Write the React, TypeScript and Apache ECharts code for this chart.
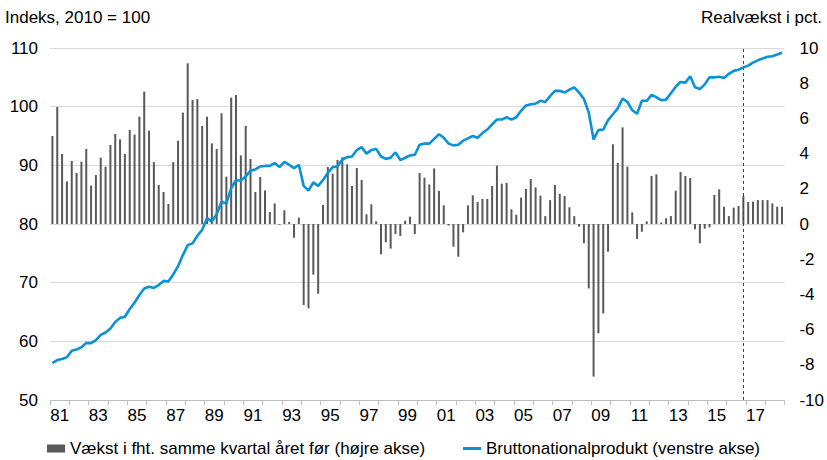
import React, { useEffect, useRef } from "react";
import * as echarts from "echarts";

const years = [
  "81", "82", "83", "84", "85", "86", "87", "88", "89", "90",
  "91", "92", "93", "94", "95", "96", "97", "98", "99", "00",
  "01", "02", "03", "04", "05", "06", "07", "08", "09", "10",
  "11", "12", "13", "14", "15", "16", "17", "18",
];
const quarterNames = ["K1", "K2", "K3", "K4"];
const quarters = years.flatMap((y) => quarterNames.map((q) => y + q));

// Bruttonationalprodukt, indeks 2010 = 100 (venstre akse)
const gdp = [
  56.3, 56.8, 57.0, 57.3, 58.4, 58.6, 59.0, 59.7, 59.7, 60.2,
  61.1, 61.5, 62.2, 63.3, 64.0, 64.2, 65.5, 66.6, 67.9, 69.0,
  69.3, 69.1, 69.6, 70.3, 70.2, 71.4, 72.8, 74.7, 76.4, 76.7,
  78.0,
  79.0, 81.0, 80.4, 81.7, 83.8, 83.5, 86.1, 87.5, 87.4, 88.1,
  89.1, 89.3, 89.8, 89.9, 89.9, 90.4, 89.7, 90.6, 90.1, 89.5,
  90.1, 86.5, 85.7, 87.1, 86.5, 87.5, 88.7, 89.7, 89.8, 91.0,
  91.4, 91.5, 92.6, 93.1, 92.0, 92.6, 92.8, 91.5, 91.1, 91.3,
  92.2, 90.9, 91.3, 91.7, 91.8, 93.5, 93.7, 93.7, 94.5, 95.3,
  94.7, 93.7, 93.4, 93.5, 94.2, 94.6, 95.0, 94.7, 95.5, 96.1,
  97.0,
  97.8, 97.8, 98.2, 97.8, 98.2, 99.3, 100.2, 100.4, 100.5, 101.0,
  100.8, 101.8, 102.7, 102.7, 102.4, 102.9, 103.3, 102.4, 101.3, 99.0,
  94.4, 96.0, 96.1, 97.7, 98.7, 99.7, 101.4, 100.8, 99.4, 98.8,
  101.0, 101.0, 102.0, 101.6, 101.1, 101.2, 102.3, 103.4, 104.2, 104.1,
  105.2, 103.3, 103.0, 103.8, 105.0, 105.0, 105.1, 104.9, 105.6, 106.1,
  106.3, 106.7, 107.0, 107.5, 107.9, 108.2, 108.5, 108.6, 108.9, 109.2,
];

// Vækst i fht. samme kvartal året før, pct. (højre akse)
const growth = [
  5.0, 6.65, 3.98, 2.42, 3.58, 2.9, 3.54, 4.26, 2.18, 2.78,
  3.77, 3.26, 4.49, 5.11, 4.81, 3.98, 5.34, 5.08, 6.1, 7.52,
  5.3, 3.52, 2.22, 1.82, 1.14, 3.52, 4.73, 6.33, 9.13, 7.05,
  7.1,
  5.57, 6.1, 4.58, 4.26, 6.29, 2.69, 7.18, 7.33, 3.9, 5.57,
  3.69, 1.82, 2.67, 1.91, 0.68, 1.17, -0.04, 0.78, 0.11, -0.78,
  0.36, -4.6, -4.79, -2.88, -3.96, 1.08, 3.24, 2.86, 3.64, 3.79,
  3.39, 2.16, 3.18, 2.5, 0.55, 1.12, 0.15, -1.72, -1.04, -1.4,
  -0.57, -0.68, 0.19, 0.42, -0.57, 2.9, 2.63, 2.25, 3.16, 1.88,
  1.06, -0.09, -1.29, -1.86, -0.47, 1.06, 1.63, 1.25, 1.42, 1.42,
  2.16,
  3.31, 2.29, 2.33, 0.83, 0.53, 1.5, 1.99, 2.56, 2.08, 1.61,
  0.45, 1.36, 2.22, 1.72, 1.59, 0.95, 0.45, -0.15, -1.1, -3.66,
  -8.67, -6.21, -5.08, -1.57, 4.53, 3.48, 5.49, 3.26, 0.66, -0.85,
  -0.44, 0.15, 2.73, 2.82, 0.09, 0.32, 0.45, 1.89, 2.95, 2.73,
  2.61, -0.3, -1.1, -0.27, -0.19, 1.65, 1.97, 0.98, 0.45, 0.93,
  1.02, 1.59, 1.25, 1.27, 1.36, 1.36, 1.36, 1.17, 0.98, 0.98,
];

const forecastStart = "16K4";
const barName = "Vækst i fht. samme kvartal året før (højre akse)";
const lineName = "Bruttonationalprodukt (venstre akse)";
const leftTitle = "Indeks, 2010 = 100";
const rightTitle = "Realvækst i pct.";

const FONT = "'Liberation Sans', Arial, sans-serif";
const BLUE = "#0a92d6";
const GREY = "#595959";

export default function App() {
  const ref = useRef<HTMLDivElement>(null);

  useEffect(() => {
    if (!ref.current) return;
    const chart = echarts.init(ref.current, undefined, { renderer: "svg" });
    chart.setOption({
      animation: false,
      textStyle: { fontFamily: FONT },
      grid: { left: 50, right: 40, top: 48, bottom: 60, containLabel: false },
      graphic: [
        {
          type: "text",
          left: 5,
          top: 9,
          style: { text: leftTitle, fontSize: 17, fontFamily: FONT, fill: "#000" },
        },
        {
          type: "text",
          right: 5,
          top: 9,
          style: { text: rightTitle, fontSize: 17, fontFamily: FONT, fill: "#000" },
        },
      ],
      legend: [
        {
          data: [{ name: barName, icon: "rect" }],
          left: 42,
          top: 435,
          itemWidth: 18,
          itemHeight: 8,
          textStyle: { fontSize: 17, color: "#000", fontFamily: FONT },
        },
        {
          data: [{ name: lineName, icon: "rect" }],
          left: 458,
          top: 435,
          itemWidth: 18,
          itemHeight: 3,
          textStyle: { fontSize: 17, color: "#000", fontFamily: FONT },
        },
      ],
      xAxis: [
        {
          type: "category",
          data: quarters,
          show: false,
          boundaryGap: true,
        },
        {
          type: "category",
          data: years,
          position: "bottom",
          boundaryGap: true,
          axisLine: { show: true, lineStyle: { color: "#bfbfbf", width: 1 } },
          axisTick: { show: true, interval: 0, length: 5, lineStyle: { color: "#bfbfbf" } },
          axisLabel: { interval: 1, fontSize: 17, color: "#000", fontFamily: FONT, margin: 7 },
          splitLine: { show: false },
        },
      ],
      yAxis: [
        {
          type: "value",
          min: 50,
          max: 110,
          interval: 10,
          position: "left",
          axisLine: { show: false },
          axisTick: { show: false },
          splitLine: { show: true, lineStyle: { color: "#d9d9d9", width: 1 } },
          axisLabel: { fontSize: 17, color: "#000", fontFamily: FONT, margin: 12 },
        },
        {
          type: "value",
          min: -10,
          max: 10,
          interval: 2,
          position: "right",
          axisLine: { show: false },
          axisTick: { show: false },
          splitLine: { show: false },
          axisLabel: { fontSize: 17, color: "#000", fontFamily: FONT, margin: 15, align: "left" },
        },
      ],
      series: [
        {
          name: barName,
          type: "bar",
          xAxisIndex: 0,
          yAxisIndex: 1,
          data: growth,
          barWidth: 2,
          itemStyle: { color: GREY },
          markLine: {
            silent: true,
            symbol: "none",
            label: { show: false },
            lineStyle: { color: "#404040", width: 1, type: [3, 3] },
            data: [{ xAxis: forecastStart }],
          },
        },
        {
          name: lineName,
          type: "line",
          xAxisIndex: 0,
          yAxisIndex: 0,
          data: gdp,
          symbol: "none",
          lineStyle: { color: BLUE, width: 2.6 },
          itemStyle: { color: BLUE },
          z: 5,
        },
      ],
    });
    return () => chart.dispose();
  }, []);

  return (
    <div
      ref={ref}
      style={{ position: "absolute", left: 0, top: 0, width: 827, height: 460, background: "#fff" }}
    />
  );
}
